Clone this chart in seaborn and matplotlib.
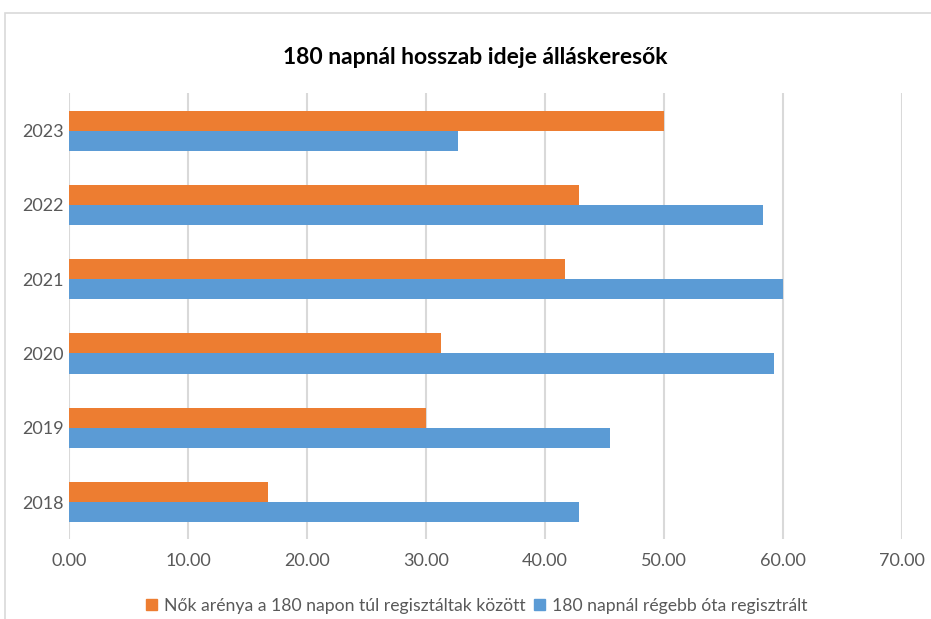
import matplotlib
matplotlib.use("Agg")
import matplotlib.pyplot as plt
import matplotlib.patches as mpatches
import seaborn as sns
import pandas as pd

years = ["2023", "2022", "2021", "2020", "2019", "2018"]
series_names = ["Nők arénya a 180 napon túl regisztáltak között",
                "180 napnál régebb óta regisztrált"]
women_share = [50.0, 42.86, 41.7, 31.26, 30.0, 16.7]
long_registered = [32.7, 58.3, 60.0, 59.25, 45.46, 42.86]
x_ticks = [0, 10, 20, 30, 40, 50, 60, 70]
colors = ["#ED7D31", "#5B9BD5"]

df = pd.DataFrame({
    "year": years * 2,
    "series": [series_names[0]] * len(years) + [series_names[1]] * len(years),
    "value": women_share + long_registered,
})

sns.set_theme(style="white")
plt.rcParams["font.family"] = ["Lato", "DejaVu Sans"]

fig = plt.figure(figsize=(9.31, 6.19), dpi=100)
ax = fig.add_axes([0.0741, 0.129, 0.895, 0.72])

sns.barplot(data=df, y="year", x="value", hue="series", order=years,
            hue_order=series_names, palette=colors, orient="h",
            width=0.54, saturation=1, linewidth=0, ax=ax, legend=False)

ax.set_xlim(0, 70)
ax.set_xticks(x_ticks)
ax.set_xticklabels([f"{t:.2f}" for t in x_ticks], color="#595959", fontsize=13)
ax.tick_params(axis="y", labelcolor="#595959", labelsize=13, length=0, pad=4)
ax.tick_params(axis="x", length=0, pad=10)
ax.set_xlabel("")
ax.set_ylabel("")
ax.xaxis.grid(True, color="#d9d9d9", linewidth=1.5)
ax.set_axisbelow(True)
for s in ax.spines.values():
    s.set_visible(False)

fig.text(0.510, 0.907, "180 napnál hosszab ideje álláskeresők", ha="center",
         va="center", fontsize=16.5, fontweight="bold", color="black")

handles = [mpatches.Patch(color=c, label=n) for c, n in zip(colors, series_names)]
fig.legend(handles=handles, loc="center", bbox_to_anchor=(0.512, 0.021), ncol=2,
           frameon=False, fontsize=12.7, handlelength=0.6, handleheight=0.6,
           handletextpad=0.4, columnspacing=0.5, labelcolor="#595959")

border = mpatches.Rectangle((5 / 931, -0.01), 1.0, 1 - 13 / 619 + 0.01,
                            transform=fig.transFigure, fill=False,
                            edgecolor="#d9d9d9", linewidth=1.2)
fig.patches.append(border)

fig.savefig("out.png", dpi=100)
